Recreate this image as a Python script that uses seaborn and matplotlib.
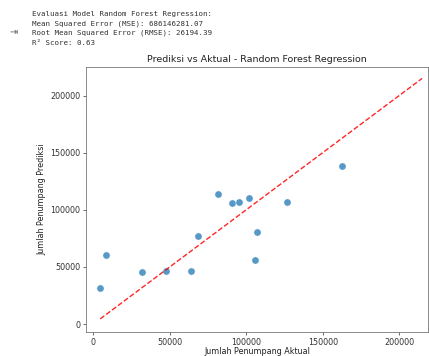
import matplotlib
matplotlib.use("Agg")
import matplotlib.pyplot as plt
import seaborn as sns
import pandas as pd

# hasil evaluasi model
mse = 686146281.07
rmse = 26194.39
r2 = 0.63

# nilai aktual vs prediksi
aktual = [4400, 8100, 31600, 47700, 63700, 68600, 81500, 90500, 95200, 102000, 105700, 107000, 126400, 162800]
prediksi = [31300, 60700, 45600, 46200, 46700, 77100, 114200, 105700, 107200, 110700, 56400, 80900, 106600, 138400]

# garis ideal y = x
garis = [4500, 215000]

df = pd.DataFrame({"Aktual": aktual, "Prediksi": prediksi})

fig = plt.figure(figsize=(4.29, 3.56), dpi=100)
ax = fig.add_axes([0.2005, 0.0674, 0.797, 0.7444])

sns.scatterplot(data=df, x="Aktual", y="Prediksi", ax=ax, s=27, alpha=0.75,
                color="#1f77b4", edgecolor="white", linewidth=0.4)
ax.plot(garis, garis, "r--", lw=1.0, alpha=0.85)

ax.set_xlim(-4800, 218800)
ax.set_ylim(-7000, 225000)
ax.set_xticks([0, 50000, 100000, 150000, 200000])
ax.set_yticks([0, 50000, 100000, 150000, 200000])
ax.tick_params(labelsize=5.8, length=2, width=0.5, colors="#333333", pad=2)
for sp in ax.spines.values():
    sp.set_linewidth(0.6)
    sp.set_color("#777777")

ax.set_title("Prediksi vs Aktual - Random Forest Regression", fontsize=6.8, color="#222222", pad=3.5)
ax.set_xlabel("Jumlah Penumpang Aktual", fontsize=5.8, color="#222222", labelpad=0.5)
ax.set_ylabel("Jumlah Penumpang Prediksi", fontsize=5.8, color="#222222", labelpad=3)

# teks output di atas grafik
teks = [
    "Evaluasi Model Random Forest Regression:",
    f"Mean Squared Error (MSE): {mse:.2f}",
    f"Root Mean Squared Error (RMSE): {rmse:.2f}",
    "R² Score: " + f"{r2:.2f}",
]
for i, t in enumerate(teks):
    fig.text(32 / 429, 1 - (14 + i * 9.6) / 356, t, fontsize=5.4, family="DejaVu Sans Mono",
             color="#333333", va="center")
fig.text(13 / 429, 1 - 32 / 356, "⇥", fontsize=7, color="#666666", va="center", ha="center")

fig.savefig("out.png", dpi=100)
